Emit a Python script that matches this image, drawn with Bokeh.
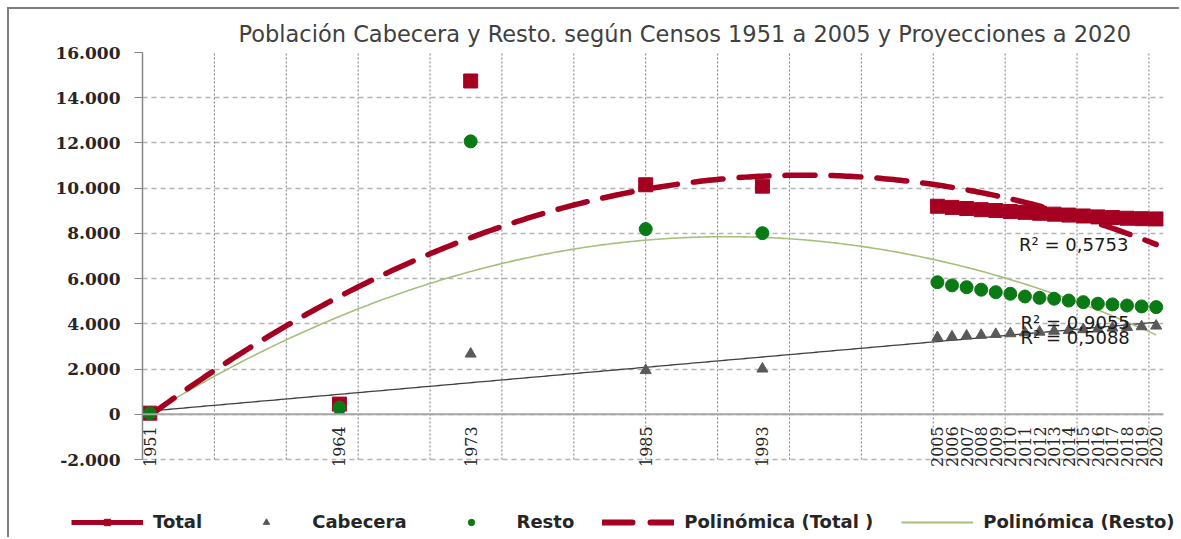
import numpy as np
from bokeh.plotting import figure
from bokeh.layouts import column
from bokeh.models import FixedTicker, Legend, LegendItem, Label, Range1d, Span
from bokeh.core.properties import value
from bokeh.embed import file_html
from bokeh.resources import INLINE

# ---------------- data ----------------
years_census = [1951, 1964, 1973, 1985, 1993]
years_proj = [2005, 2006, 2007, 2008, 2009, 2010, 2011, 2012,
              2013, 2014, 2015, 2016, 2017, 2018, 2019, 2020]
years = years_census + years_proj

total_census = [50, 450, 14740, 10150, 10090]
total_proj = [9200, 9150, 9100, 9050, 9010, 8970, 8930, 8890,
              8850, 8810, 8770, 8730, 8700, 8670, 8650, 8640]

cabecera_census = [10, 150, 2670, 1940, 2010]
cabecera_proj = [3400, 3430, 3470, 3500, 3540, 3570, 3610, 3640,
                 3680, 3710, 3750, 3780, 3820, 3850, 3880, 3910]

resto_census = [40, 300, 12070, 8190, 8010]
resto_proj = [5840, 5700, 5620, 5510, 5400, 5330, 5210, 5150,
              5110, 5030, 4960, 4890, 4860, 4810, 4770, 4740]

r2_labels = ["R² = 0,5753", "R² = 0,9055", "R² = 0,5088"]
y_ticks = [-2000, 0, 2000, 4000, 6000, 8000, 10000, 12000, 14000, 16000]
year_labels = [str(y) for y in years]

title_text = "Población  Cabecera y Resto. según Censos 1951 a 2005 y Proyecciones a 2020"

total = total_census + total_proj
cabecera = cabecera_census + cabecera_proj
resto = resto_census + resto_proj

# ---------------- colours ----------------
RED = "#a50021"
GREEN = "#0a7a14"
GREY = "#595959"
OLIVE = "#a6c07c"
TREND_C = "#404040"
BORDER = "2px solid #7f7f7f"

# ---------------- main chart ----------------
p = figure(width=1172, height=462, output_backend="svg", toolbar_location=None,
           x_range=Range1d(1950.5, 2020.5), y_range=Range1d(-2442, 16000),
           min_border_left=133, min_border_right=18, min_border_top=43,
           min_border_bottom=2)
p.outline_line_color = None
p.background_fill_color = "white"
p.border_fill_color = "white"
p.styles = {"margin-left": "7px", "margin-top": "7px",
            "border-left": BORDER, "border-top": BORDER}

# title
p.title.text = title_text
p.title.align = "left"
p.title.offset = 96
p.title.standoff = 11
p.title.text_font = "DejaVu Sans"
p.title.text_font_size = "22.5px"
p.title.text_font_style = "normal"
p.title.text_color = "#404040"

# y axis
p.yaxis.ticker = FixedTicker(ticks=y_ticks)
p.yaxis.bounds = (y_ticks[0], y_ticks[-1])
p.yaxis.major_label_overrides = {t: f"{t:,}".replace(",", ".") for t in y_ticks}
p.yaxis.major_label_text_font = "DejaVu Serif"
p.yaxis.major_label_text_font_style = "bold"
p.yaxis.major_label_text_font_size = "17px"
p.yaxis.major_label_text_color = "#262626"
p.yaxis.major_label_standoff = 14
p.yaxis.major_tick_in = 0
p.yaxis.major_tick_out = 8
p.yaxis.minor_tick_line_color = None
p.yaxis.axis_line_color = "#868686"
p.yaxis.axis_line_width = 1.5
p.yaxis.major_tick_line_color = "#868686"

# x axis: category axis crossing at zero, labels only at the data years
p.xaxis.visible = False
p.xgrid.visible = False
grid_x = [1950.5 + k * 69 / 14 for k in range(15)]

# grids
p.ygrid.ticker = FixedTicker(ticks=y_ticks)
p.ygrid.grid_line_color = "#b4b4b4"
p.ygrid.grid_line_dash = "5 4"
p.ygrid.grid_line_width = 1.6
p.segment(x0=grid_x, y0=[y_ticks[0]] * len(grid_x), x1=grid_x,
          y1=[y_ticks[-1]] * len(grid_x), line_color="#7a7a7a",
          line_dash="2 2", line_width=1)

p.add_layout(Span(location=0, dimension="width", line_color="#a6a6a6", line_width=2))
p.text(x=years, y=[0] * len(years), text=year_labels, angle=np.pi / 2,
       text_align="right", text_baseline="middle", y_offset=12,
       text_font=value("DejaVu Serif"), text_font_size="16px", text_color="#262626")

# trendlines (fitted from the series, as the spreadsheet does)
xs = np.linspace(1951, 2020, 300)
yr = np.array(years, dtype=float) - 1951
ct = np.polyfit(yr, np.array(total, dtype=float), 2)
cr = np.polyfit(yr, np.array(resto, dtype=float), 2)
cc = np.polyfit(yr, np.array(cabecera, dtype=float), 1)

p.line(xs, np.polyval(cc, xs - 1951), line_color=TREND_C, line_width=1.3)
p.line(xs, np.polyval(cr, xs - 1951), line_color=OLIVE, line_width=1.6)
p.line(xs, np.polyval(ct, xs - 1951), line_color=RED, line_width=5.5,
       line_dash="30 16", line_cap="round")

# series (drawn in the spreadsheet's order: Total, Cabecera, Resto)
p.line(years_proj, total_proj, line_color=RED, line_width=9)
p.scatter(years, total, marker="square", size=14, color=RED)
p.scatter(years, cabecera, marker="triangle", size=11, color=GREY)
p.scatter(years, resto, marker="circle", size=13, color=GREEN)

# R² labels
for txt, lx, ly in [(r2_labels[0], 2010.6, 7520), (r2_labels[1], 2010.7, 4070),
                    (r2_labels[2], 2010.7, 3400)]:
    p.add_layout(Label(x=lx, y=ly, text=txt, text_baseline="middle",
                       text_font="DejaVu Sans", text_font_size="18px",
                       text_color="#1a1a1a"))

# ---------------- legend strip ----------------
lf = figure(width=1172, height=68, output_backend="svg", toolbar_location=None,
            x_range=Range1d(0, 1), y_range=Range1d(0, 1),
            x_axis_type=None, y_axis_type=None,
            min_border_left=0, min_border_right=0, min_border_top=0, min_border_bottom=0)
lf.outline_line_color = None
lf.background_fill_color = "white"
lf.border_fill_color = "white"
lf.styles = {"margin-left": "7px", "border-left": BORDER}
if "frame_align" in lf.properties():
    lf.frame_align = False
    p.frame_align = False

# key-only renderers (a single point placed outside the strip's visible range)
kx, ky = [-5], [-5]
k_tl = lf.line(kx, ky, line_color=RED, line_width=5)
k_ts = lf.scatter(kx, ky, marker="square", size=11, color=RED)
k_c = lf.scatter(kx, ky, marker="triangle", size=10, color=GREY)
k_r = lf.scatter(kx, ky, marker="circle", size=10, color=GREEN)
k_pt = lf.line(kx, ky, line_color=RED, line_width=6, line_dash="30 18", line_cap="round")
k_pr = lf.line(kx, ky, line_color=OLIVE, line_width=2)

legend = Legend(items=[
    LegendItem(label="Total", renderers=[k_tl, k_ts]),
    LegendItem(label="Cabecera", renderers=[k_c]),
    LegendItem(label="Resto", renderers=[k_r]),
    LegendItem(label="Polinómica (Total )", renderers=[k_pt]),
    LegendItem(label="Polinómica (Resto)", renderers=[k_pr]),
], orientation="horizontal", location=(62, 5), glyph_width=72, glyph_height=16,
    label_standoff=10, spacing=28, padding=0, margin=0, label_height=18,
    border_line_color=None, background_fill_alpha=0,
    label_text_font="DejaVu Sans", label_text_font_style="bold",
    label_text_font_size="18px", label_text_color="#262626")
lf.add_layout(legend, "center")

layout = column(p, lf, spacing=0)
open("out.html", "w").write(file_html(layout, INLINE))
